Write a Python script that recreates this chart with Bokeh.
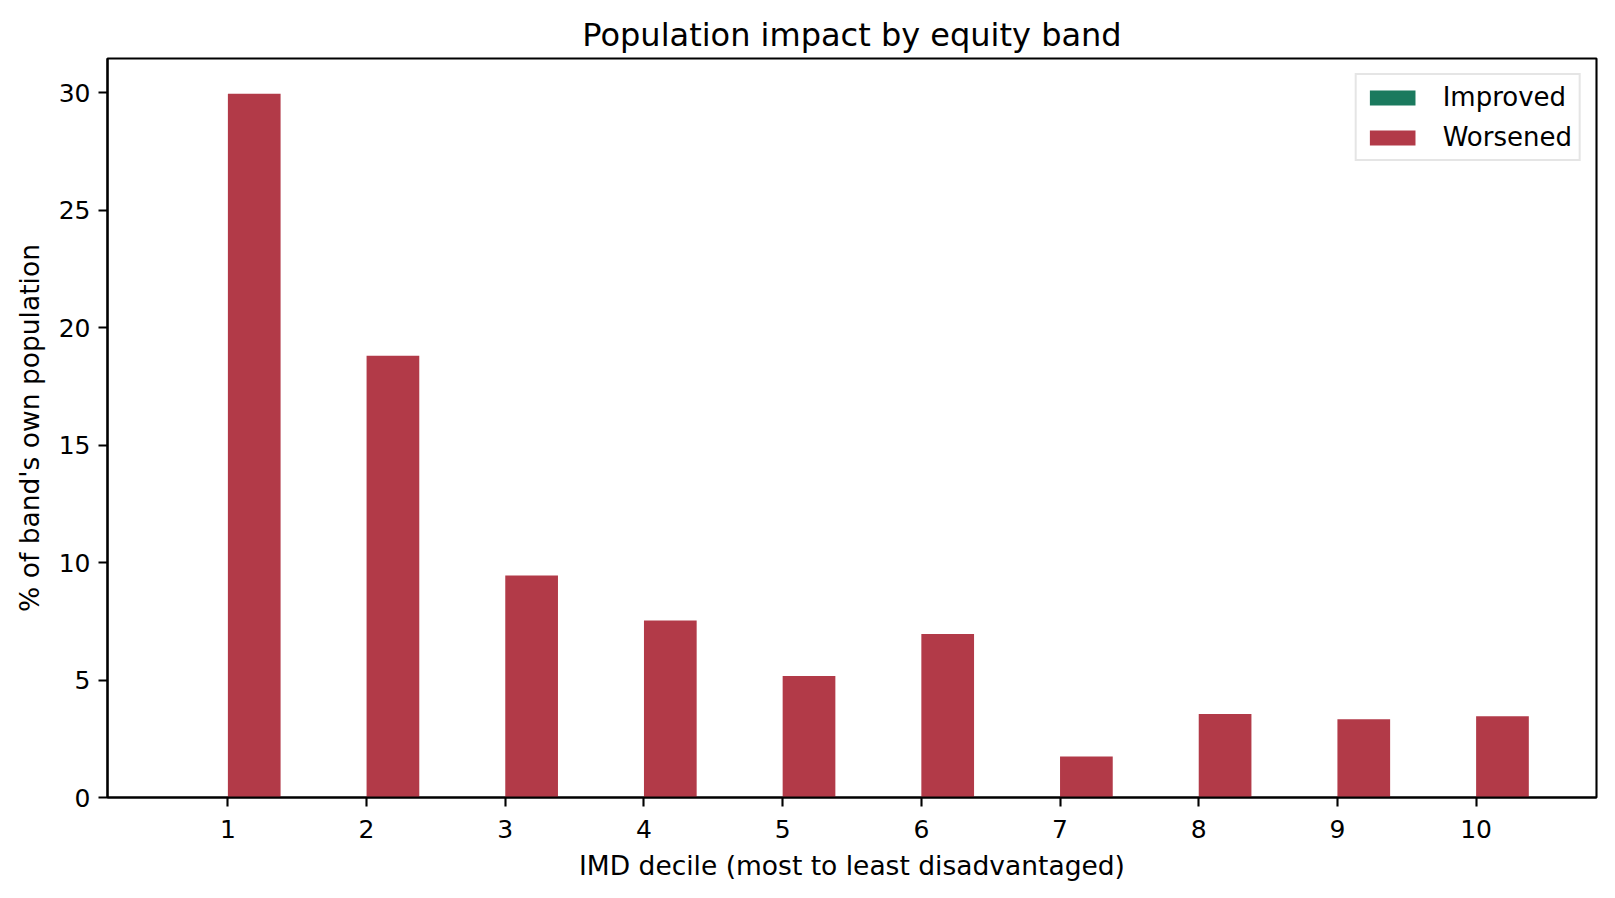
from bokeh.plotting import figure
from bokeh.models import ColumnDataSource, FixedTicker, Range1d, Legend, LegendItem
from bokeh.embed import file_html
from bokeh.resources import INLINE

deciles = [1, 2, 3, 4, 5, 6, 7, 8, 9, 10]
improved = [0, 0, 0, 0, 0, 0, 0, 0, 0, 0]
worsened = [29.95, 18.8, 9.45, 7.53, 5.17, 6.96, 1.75, 3.55, 3.33, 3.46]
y_ticks = [0, 5, 10, 15, 20, 25, 30]

W = 0.38
src = ColumnDataSource(dict(
    x_imp=[d - W / 2 for d in deciles],
    x_wor=[d + W / 2 for d in deciles],
    improved=improved,
    worsened=worsened,
))

FONT = "DejaVu Sans"
p = figure(width=1600, height=883, output_backend="svg", toolbar_location=None,
           x_range=Range1d(0.132, 10.868), y_range=Range1d(0, max(worsened) * 1.05),
           min_border_left=107, min_border_right=4, min_border_top=58, min_border_bottom=83,
           title="Population impact by equity band")

r1 = p.vbar(x="x_imp", top="improved", bottom=0, width=W, source=src,
            fill_color="#1b7a5e", line_color=None)
r2 = p.vbar(x="x_wor", top="worsened", bottom=0, width=W, source=src,
            fill_color="#b23a48", line_color=None)

p.title.text_font = FONT
p.title.text_font_size = "32px"
p.title.text_font_style = "normal"
p.title.align = "center"
p.title.text_color = "black"

p.xgrid.visible = False
p.ygrid.visible = False
p.outline_line_color = "black"
p.outline_line_width = 2.1
p.background_fill_color = "white"
p.border_fill_color = "white"

p.xaxis.ticker = FixedTicker(ticks=deciles)
p.yaxis.ticker = FixedTicker(ticks=y_ticks)
for ax in (p.xaxis, p.yaxis):
    ax.major_label_text_font = FONT
    ax.major_label_text_font_size = "25px"
    ax.major_label_text_color = "black"
    ax.axis_label_text_font = FONT
    ax.axis_label_text_font_size = "26.5px"
    ax.axis_label_text_font_style = "normal"
    ax.axis_label_text_color = "black"
    ax.major_tick_out = 9
    ax.major_tick_in = 0
    ax.minor_tick_out = 0
    ax.minor_tick_in = 0
    ax.axis_line_width = 2.1
    ax.major_tick_line_width = 2.1
    ax.axis_line_color = "black"
    ax.major_tick_line_color = "black"
p.xaxis.major_label_standoff = 13
p.yaxis.major_label_standoff = 8
p.xaxis.axis_label = "IMD decile (most to least disadvantaged)"
p.yaxis.axis_label = "% of band's own population"
p.xaxis.axis_label_standoff = 9
p.yaxis.axis_label_standoff = 11

legend = Legend(items=[LegendItem(label="Improved", renderers=[r1]),
                       LegendItem(label="Worsened", renderers=[r2])],
                location="top_right")
legend.label_text_font = FONT
legend.label_text_font_size = "26px"
legend.label_text_color = "black"
legend.glyph_width = 57
legend.glyph_height = 19
legend.label_standoff = 22
legend.spacing = 10
legend.padding = 7
legend.margin = 15
legend.border_line_color = "#cccccc"
legend.border_line_width = 2
legend.background_fill_alpha = 0.8
p.add_layout(legend)

open("out.html", "w").write(file_html(p, INLINE))
